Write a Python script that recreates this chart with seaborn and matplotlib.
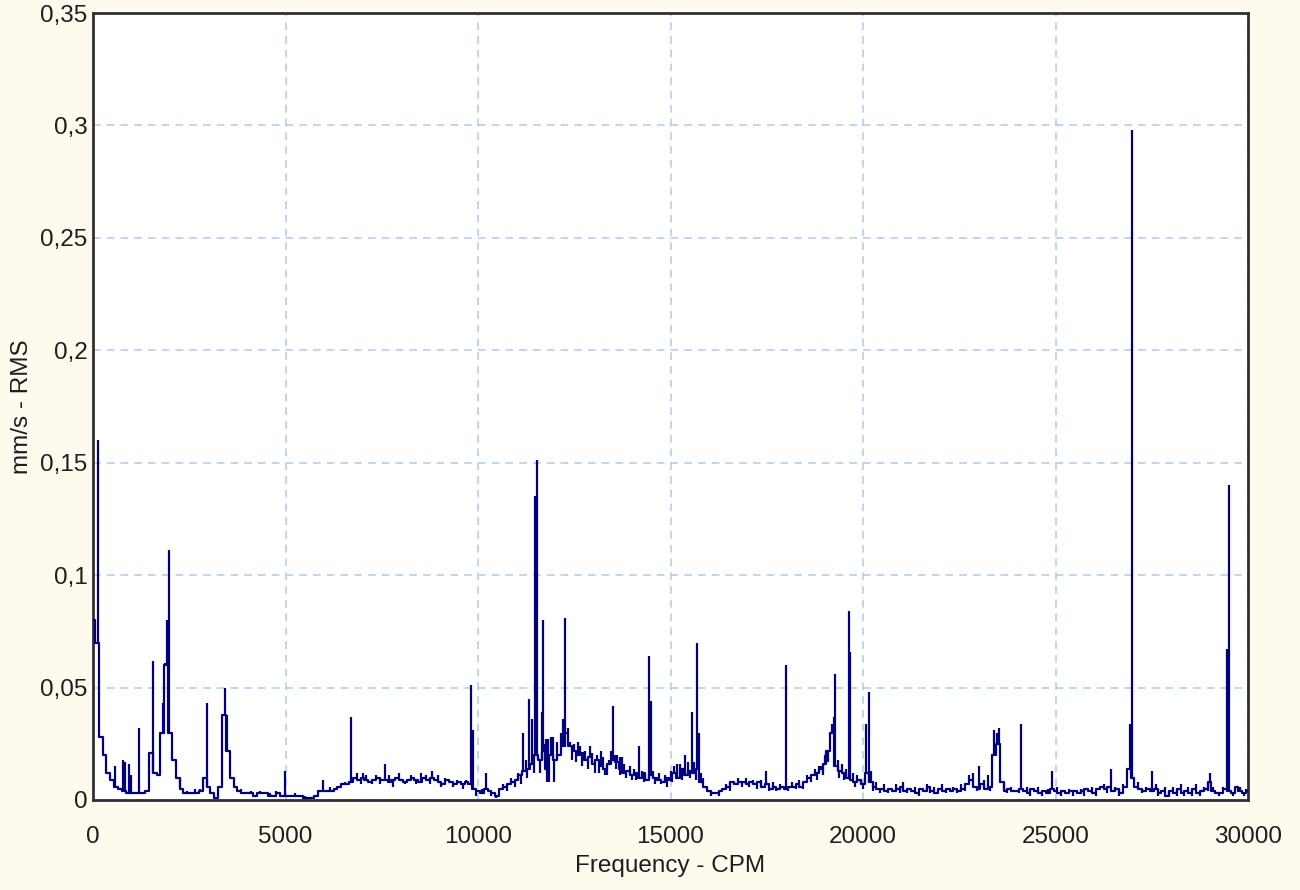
import numpy as np
import pandas as pd
import matplotlib
matplotlib.use("Agg")
import matplotlib.pyplot as plt
import seaborn as sns

# ---- data (amplitudes in 0.001 mm/s) ----
freq_step = 100  # CPM between baseline bins
baseline_milli = [
    80, 70, 28, 20, 12, 9, 6, 5, 4, 3,
    3, 3, 3, 3, 4, 21, 12, 11, 30, 60,
    30, 18, 10, 5, 3, 3, 3, 3, 4, 10,
    6, 3, 1, 6, 38, 22, 10, 6, 4, 3,
    3, 3, 2, 3, 3, 3, 2, 2, 3, 2,
    2, 2, 2, 2, 2, 1, 1, 1, 2, 4,
    4, 4, 4, 5, 6, 7, 7, 8, 10, 9,
    10, 9, 8, 9, 10, 9, 9, 8, 9, 10,
    9, 8, 9, 10, 9, 8, 10, 9, 10, 9,
    8, 7, 9, 8, 7, 8, 7, 8, 7, 5,
    4, 3, 5, 4, 3, 2, 5, 6, 7, 8,
    9, 11, 13, 14, 16, 20, 18, 22, 14, 20,
    18, 20, 24, 30, 24, 22, 20, 21, 18, 19,
    16, 18, 15, 14, 16, 18, 17, 14, 12, 13,
    11, 12, 10, 12, 9, 11, 10, 9, 8, 10,
    9, 12, 10, 14, 11, 13, 12, 14, 8, 6,
    4, 3, 3, 4, 5, 6, 8, 7, 8, 8,
    7, 8, 7, 8, 6, 7, 5, 6, 5, 6,
    5, 6, 6, 7, 6, 8, 10, 11, 12, 14,
    16, 22, 30, 15, 13, 12, 10, 9, 8, 9,
    7, 12, 8, 6, 5, 5, 4, 5, 4, 5,
    6, 4, 5, 4, 3, 5, 4, 6, 4, 3,
    5, 4, 5, 4, 5, 4, 5, 7, 9, 6,
    5, 7, 5, 6, 20, 25, 8, 4, 5, 4,
    4, 5, 4, 3, 5, 4, 3, 4, 3, 5,
    4, 3, 4, 3, 4, 4, 3, 4, 5, 4,
    3, 5, 6, 5, 6, 4, 5, 3, 6, 14,
    10, 6, 5, 4, 5, 4, 5, 3, 4, 2,
    4, 3, 5, 3, 4, 3, 5, 3, 4, 5,
    8, 4, 3, 3, 5, 4, 3, 6, 4, 3,
    4,
]

# distinct spectral lines
peak_freq = [
    120, 571, 770, 830, 943, 980, 1195, 1550, 1830, 1880, 1920, 1965,
    2950, 3430, 3470, 4990, 5970, 6700, 7000, 7580, 8530, 8800, 9830, 9870,
    10220, 10480, 11175, 11330, 11390, 11480, 11520, 11650, 11690, 11760,
    11780, 11950, 11980, 12215, 12265, 12330, 12600, 12900, 13200, 13450,
    13510, 13620, 13750, 14190, 14450, 14490, 15160, 15375, 15550, 15695,
    15730, 17470, 17990, 18900, 19050, 19150, 19200, 19240, 19270, 19640,
    19670, 20090, 20160, 20200, 22750, 23020, 23250, 23400, 23480, 23520,
    24110, 24900, 26450, 26870, 26930, 26975, 27495, 29025, 29465, 29510,
    29740,
]
peak_milli = [
    160, 15, 18, 17, 16, 11, 32, 62, 43, 61, 80, 111,
    43, 50, 38, 13, 9, 37, 12, 16, 12, 13, 51, 31,
    12, 1, 30, 45, 36, 135, 151, 39, 80, 27,
    8, 28, 8, 36, 81, 32, 26, 24, 22, 22,
    42, 20, 19, 24, 64, 44, 16, 20, 39, 70,
    30, 13, 60, 15, 21, 29, 34, 37, 56, 84,
    66, 34, 48, 13, 11, 15, 11, 31, 30, 32,
    34, 13, 14, 14, 34, 298, 13, 12, 67, 140,
    6,
]

# small ups and downs of the noise floor
jitter_freq = [
    2250, 2450, 2650, 2780, 3850, 4100, 4350, 4600, 4750, 5250, 5500, 5800,
    6150, 6350, 6550, 6850, 6950, 7100, 7250, 7350, 7450, 7700, 7800, 7950,
    8100, 8250, 8400, 8650, 8750, 8950, 9050, 9150, 9350, 9450, 9600, 9700,
    9950, 10100, 10350, 10650, 10750, 10850, 10950, 11050, 11120, 11250, 11280,
    11430, 11450, 11560, 11600, 11720, 11820, 11850, 11900, 12050, 12120, 12160,
    12380, 12450, 12500, 12550, 12650, 12700, 12780, 12850, 12950, 13050, 13100,
    13150, 13250, 13300, 13350, 13400, 13560, 13580, 13680, 13700, 13800, 13850,
    13950, 14000, 14050, 14100, 14250, 14300, 14350, 14550, 14600, 14700, 14750,
    14850, 14900, 15000, 15050, 15100, 15250, 15300, 15450, 15500, 15600, 15650,
    15780, 15850, 15950, 16050, 16250, 16450, 16550, 16750, 16850, 16950, 17050,
    17150, 17250, 17350, 17550, 17650, 17750, 17850, 18050, 18150, 18250, 18350,
    18450, 18550, 18650, 18750, 18800, 18850, 18950, 19000, 19100, 19350, 19380,
    19450, 19500, 19550, 19750, 19800, 19850, 19950, 20000, 20250, 20350, 20450,
    20550, 20650, 20850, 20950, 21050, 21150, 21350, 21450, 21650, 21750, 21850,
    22050, 22150, 22350, 22450, 22550, 22650, 22850, 22950, 23150, 23300, 23650,
    23750, 23850, 24050, 24250, 24350, 24550, 24650, 24800, 25050, 25150, 25350,
    25450, 25650, 25750, 25950, 26050, 26250, 26350, 26550, 26650, 26750, 27150,
    27250, 27350, 27600, 27650, 27850, 27950, 28050, 28150, 28250, 28350, 28450,
    28550, 28650, 28750, 28850, 28950, 29100, 29250, 29350, 29600, 29800, 29900,
    29950,
]
jitter_milli = [
    6, 4, 5, 5, 5, 4, 4, 3, 4, 3, 2, 2,
    6, 5, 8, 12, 7, 11, 7, 11, 7, 11, 6, 12,
    7, 11, 7, 11, 7, 11, 6, 10, 6, 9, 5, 9,
    2, 5, 2, 7, 4, 10, 6, 12, 7, 18, 10,
    20, 12, 20, 12, 25, 27, 8, 28, 26, 20, 30,
    26, 18, 25, 17, 24, 15, 22, 14, 21, 12, 20,
    12, 19, 11, 11, 18, 20, 14, 19, 11, 16, 10,
    15, 9, 14, 9, 13, 8, 12, 13, 7, 12, 7,
    11, 6, 13, 8, 15, 16, 9, 17, 10, 17, 9,
    12, 10, 4, 2, 2, 7, 4, 10, 6, 10, 6,
    9, 5, 9, 4, 8, 4, 7, 4, 8, 5, 9,
    5, 11, 8, 14, 9, 15, 11, 20, 17, 18, 10,
    16, 9, 14, 12, 6, 11, 9, 5, 4, 8, 3,
    7, 3, 7, 3, 8, 3, 6, 2, 7, 3, 6,
    7, 3, 6, 3, 7, 4, 12, 4, 9, 4, 5,
    3, 6, 3, 6, 2, 6, 2, 5, 6, 2, 5,
    2, 5, 2, 6, 2, 7, 3, 6, 2, 7, 8,
    3, 6, 7, 2, 6, 2, 6, 2, 7, 2, 6,
    2, 7, 2, 6, 4, 6, 2, 6, 2, 6, 2,
    5,
]

x_ticks = [0, 5000, 10000, 15000, 20000, 25000, 30000]
y_ticks = [0, 0.05, 0.1, 0.15, 0.2, 0.25, 0.3, 0.35]
y_tick_labels = ["0", "0,05", "0,1", "0,15", "0,2", "0,25", "0,3", "0,35"]

# ---- build tables ----
base = np.array(baseline_milli) / 1000.0
df = pd.DataFrame({"freq": np.arange(len(base)) * freq_step, "amp": base})
lines = pd.DataFrame({"freq": peak_freq + jitter_freq,
                      "amp": np.array(peak_milli + jitter_milli) / 1000.0})
lines["foot"] = [base[int(round(f / freq_step))] for f in lines["freq"]]

# ---- style ----
sns.set_theme(style="white")
plt.rcParams["font.family"] = ["Liberation Sans", "DejaVu Sans"]

LINE = "#000080"
TXT = "#1e1e1e"
FS = 17.5
fig = plt.figure(figsize=(13, 8.9), dpi=100, facecolor="#FFF9EE")
ax = fig.add_axes([93 / 1300, 90 / 890, 1155 / 1300, 787 / 890])
ax.set_facecolor("white")

sns.lineplot(data=df, x="freq", y="amp", ax=ax, color=LINE, linewidth=1.6,
             drawstyle="steps-mid", estimator=None, zorder=3)
ax.vlines(lines["freq"], lines["foot"], lines["amp"], color=LINE,
          linewidth=1.6, zorder=3)

ax.set_xlim(0, 30000)
ax.set_ylim(0, 0.35)
ax.set_xticks(x_ticks)
ax.set_xticklabels([str(t) for t in x_ticks])
ax.set_yticks(y_ticks)
ax.set_yticklabels(y_tick_labels)

ax.set_axisbelow(True)
ax.grid(True, color="#a9cdf3", linestyle=(0, (5, 4)), linewidth=1.1)

for s in ax.spines.values():
    s.set_color("#303030")
    s.set_linewidth(2)

ax.tick_params(axis="both", length=0, labelsize=FS, colors=TXT)
ax.tick_params(axis="x", pad=19)
ax.tick_params(axis="y", pad=4)

ax.set_xlabel("Frequency - CPM", fontsize=FS, color=TXT, labelpad=5)
ax.set_ylabel("mm/s - RMS", fontsize=FS, color=TXT, labelpad=5)

fig.savefig("out.png", dpi=100, facecolor=fig.get_facecolor())
